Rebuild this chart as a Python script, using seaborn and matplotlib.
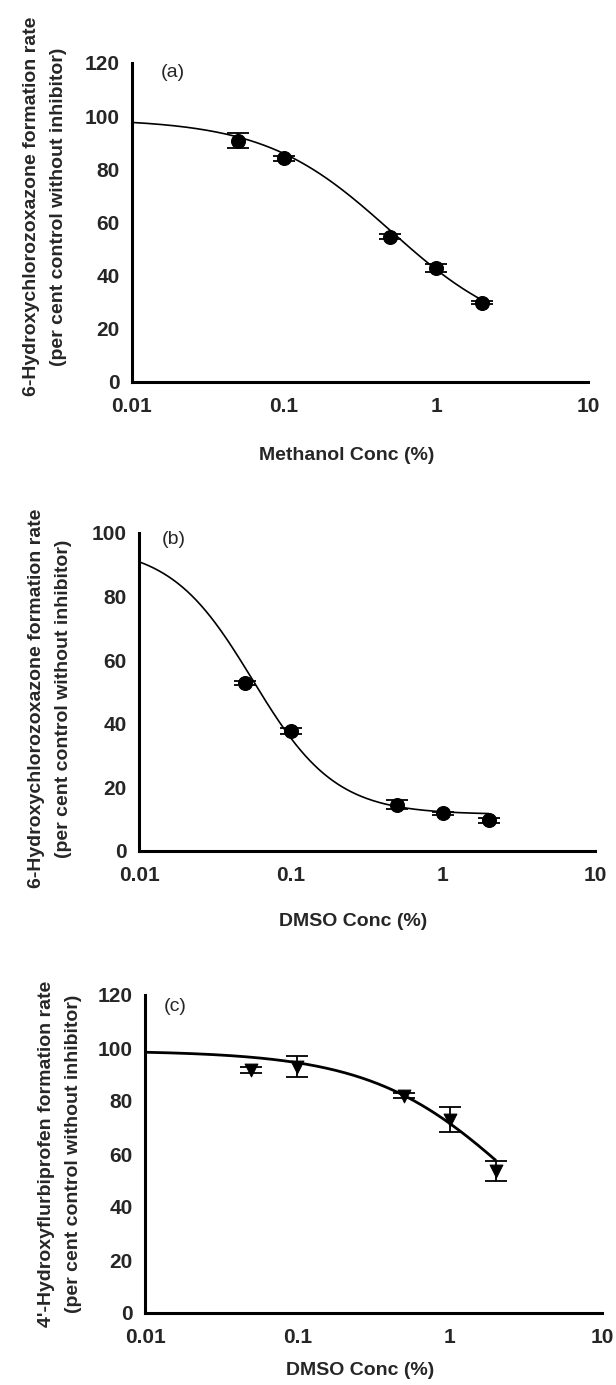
import numpy as np
import pandas as pd
import matplotlib
matplotlib.use("Agg")
import matplotlib.pyplot as plt
from matplotlib.ticker import FixedLocator, FixedFormatter, NullLocator
import seaborn as sns

sns.set_theme(style="white")
plt.rcParams['font.family'] = ['Liberation Sans', 'DejaVu Sans']

# ---- data ----
conc = [0.05, 0.1, 0.5, 1, 2]

a_y = [90.8, 84.2, 54.7, 42.8, 29.8]
a_err = [2.9, 1.0, 1.0, 1.6, 0.6]
a_fit = dict(top=99.0, bottom=15.0, ic50=0.50, hill=1.05)

b_y = [52.8, 37.8, 14.6, 11.8, 9.7]
b_err = [0.6, 0.9, 1.5, 0.6, 0.8]
b_fit = dict(top=96.0, bottom=11.5, ic50=0.056, hill=1.6)

c_y = [91.6, 93.0, 82.0, 73.0, 53.6]
c_err = [1.1, 3.8, 1.0, 4.7, 3.9]
c_fit = dict(top=99.0, bottom=0.0, ic50=2.9, hill=0.9)

xticks = [0.01, 0.1, 1, 10]
xtick_labels = ["0.01", "0.1", "1", "10"]

panels = [
    dict(y=a_y, err=a_err, fit=a_fit, ymax=120, marker="o", lw=1.2,
         tag="(a)", tagpos=(0.064, 0.969),
         xlabel="Methanol Conc (%)",
         ylabel="6-Hydroxychlorozoxazone formation rate\n(per cent control without inhibitor)",
         rect=[132/616, 1-382/1385, 456/616, 319/1385], xl_y=-0.205, yl=(-0.143, 0.55)),
    dict(y=b_y, err=b_err, fit=b_fit, ymax=100, marker="o", lw=1.2,
         tag="(b)", tagpos=(0.05, 0.978),
         xlabel="DMSO Conc (%)",
         ylabel="6-Hydroxychlorozoxazone formation rate\n(per cent control without inhibitor)",
         rect=[139/616, 1-851/1385, 456/616, 318/1385], xl_y=-0.195, yl=(-0.147, 0.48)),
    dict(y=c_y, err=c_err, fit=c_fit, ymax=120, marker="v", lw=2.0,
         tag="(c)", tagpos=(0.042, 0.965),
         xlabel="DMSO Conc (%)",
         ylabel="4'-Hydroxyflurbiprofen formation rate\n(per cent control without inhibitor)",
         rect=[145/616, 1-1313/1385, 457/616, 318/1385], xl_y=-0.155, yl=(-0.138, 0.50)),
]

fig = plt.figure(figsize=(6.16, 13.85), dpi=100)

for p in panels:
    ax = fig.add_axes(p["rect"])
    f = p["fit"]
    xx = np.logspace(-2, np.log10(2.0), 300)
    yy = f["bottom"] + (f["top"] - f["bottom"]) / (1 + (xx / f["ic50"]) ** f["hill"])
    sns.lineplot(x=xx, y=yy, ax=ax, color="black", lw=p["lw"], zorder=2)
    ax.errorbar(conc, p["y"], yerr=p["err"], fmt="none", ecolor="black",
                elinewidth=1.3, capsize=8, capthick=1.3, zorder=3)
    df = pd.DataFrame({"x": conc, "y": p["y"]})
    sns.scatterplot(data=df, x="x", y="y", ax=ax, marker=p["marker"],
                    s=100 if p["marker"] == "o" else 85, color="black",
                    edgecolor="black", zorder=4)
    ax.set_xscale("log")
    ax.set_xlim(0.01, 10)
    ax.set_ylim(0, p["ymax"])
    ax.xaxis.set_major_locator(FixedLocator(xticks))
    ax.xaxis.set_major_formatter(FixedFormatter(xtick_labels))
    ax.xaxis.set_minor_locator(NullLocator())
    ax.set_yticks(np.arange(0, p["ymax"] + 1, 20))
    for s in ["top", "right"]:
        ax.spines[s].set_visible(False)
    for s in ["left", "bottom"]:
        ax.spines[s].set_linewidth(2.2)
        ax.spines[s].set_color("black")
    ax.tick_params(axis="both", which="major", direction="out", length=5,
                   width=2, color="black", labelsize=15, pad=6)
    ax.tick_params(axis="y", pad=4)
    for lab in ax.get_xticklabels() + ax.get_yticklabels():
        lab.set_fontweight("bold")
    ax.set_xlabel(p["xlabel"], fontsize=14, fontweight="bold")
    ax.xaxis.set_label_coords(0.47, p["xl_y"])
    ax.set_ylabel(p["ylabel"], fontsize=14, fontweight="bold", linespacing=1.75)
    ax.yaxis.set_label_coords(p["yl"][0], p["yl"][1])
    ax.text(p["tagpos"][0], p["tagpos"][1], p["tag"], transform=ax.transAxes,
            fontsize=14, ha="left", va="center")
    ax.grid(False)

fig.savefig("out.png", dpi=100)
